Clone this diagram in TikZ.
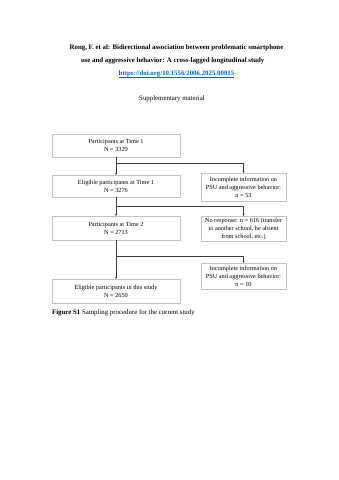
\documentclass[tikz,border=0pt]{standalone}
\usepackage{fontspec}
\setmainfont{Liberation Serif}
\usepackage{xcolor}
\usetikzlibrary{arrows.meta, positioning, calc}
\definecolor{linkblue}{RGB}{5,99,193}
\definecolor{boxgray}{RGB}{195,195,195}
\definecolor{linegray}{RGB}{60,60,60}
\newcommand{\boxfont}{\fontsize{11}{14}\selectfont}

\begin{document}
\begin{tikzpicture}[x=1.754pt, y=-1.754pt,
  flowbox/.style={draw=boxgray, line width=0.6pt, align=center, inner sep=1pt,
    font=\boxfont, minimum width=224.5pt},
  sidebox/.style={flowbox, minimum width=149pt},
  flow/.style={draw=linegray, line width=0.6pt, -{Triangle[length=3.5pt, width=3.5pt]}}]
  \useasboundingbox (0,0) rectangle (339,480);

  % heading
  \node[font=\bfseries\fontsize{12}{14}\selectfont] (title) at (176.5,47.7)
    {Rong, F. et al: Bidirectional association between problematic smartphone};
  \node[font=\bfseries\fontsize{12}{14}\selectfont, anchor=west] (subtitle) at (79,61)
    {use and aggressive behavior: A cross-lagged longitudinal study};
  \node[font=\bfseries\fontsize{12}{14}\selectfont, text=linkblue] (doi) at (176.5,74)
    {\underline{https://doi.org/10.1556/2006.2025.00015}};
  \node[font=\fontsize{12}{14}\selectfont] (supp) at (172,99) {Supplementary material};

  % main column
  \node[flowbox, minimum height=40.3pt] (time1) at (116,145.5)
    {Participants at Time 1\\N = 3329};
  \node[flowbox, minimum height=38.6pt] (elig1) at (116,186)
    {Eligible participants at Time 1\\N = 3276};
  \node[flowbox, minimum height=42.1pt] (time2) at (116,228)
    {Participants at Time 2\\N = 2713};
  \node[flowbox, minimum height=42.1pt] (final) at (116,291)
    {Eligible participants in this study\\N = 2650};

  % side column
  \node[sidebox, minimum height=49.1pt] (miss1) at (243.5,187)
    {Incomplete information on\\PSU and aggressive behavior:\\n = 53};
  \node[sidebox, minimum height=43.9pt] (noresp) at (243.5,228.5)
    {No response: n = 616 (transfer\\to another school, be absent\\from school, etc.)};
  \node[sidebox, minimum height=45.6pt] (miss2) at (243.5,276)
    {Incomplete information on\\PSU and aggressive behavior:\\n = 10};

  % branch points
  \coordinate (split1) at (116,163);
  \coordinate (split2) at (116,206.5);
  \coordinate (split3) at (116,256);

  % connectors
  \draw[flow] (time1) -- (elig1);
  \draw[flow] (split1) -| (miss1);
  \draw[flow] (elig1) -- (time2);
  \draw[flow] (split2) -| (noresp);
  \draw[flow] (time2) -- (final);
  \draw[flow] (split3) -| (miss2);

  % caption
  \node[anchor=west, inner sep=0pt, font=\fontsize{12}{14}\selectfont] (caption) at (52,312.5)
    {\textbf{Figure S1} Sampling procedure for the current study};
\end{tikzpicture}
\end{document}
